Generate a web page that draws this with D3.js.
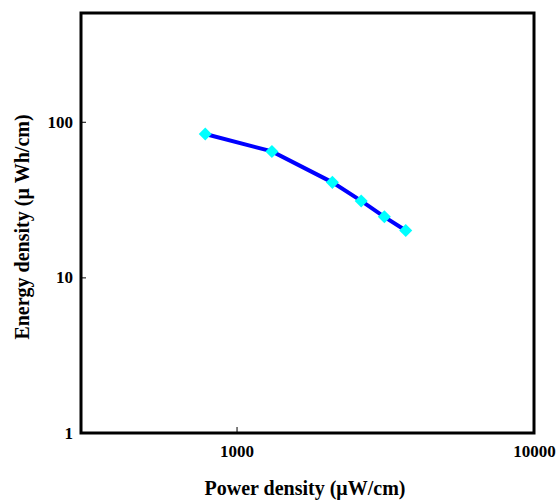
<!DOCTYPE html>
<html>
<head>
<meta charset="utf-8">
<script src="https://cdn.jsdelivr.net/npm/d3@7"></script>
<style>
  body { margin: 0; background: #fff; }
  text { font-family: "Liberation Serif", "Times New Roman", serif; font-weight: bold; }
</style>
</head>
<body>
<div id="chart"></div>
<script>
// power density (µW/cm) vs energy density (µWh/cm)
const powerDensity = [785, 1315, 2100, 2625, 3140, 3705]
const energyDensity = [83.4, 64.5, 40.8, 31.0, 24.5, 20.0]
const xTicks = [1000, 10000]
const yTicks = [1, 10, 100]

const width = 558
const height = 501
const margin = { top: 13, right: 24, bottom: 68, left: 81 }
const innerW = width - margin.left - margin.right
const innerH = height - margin.top - margin.bottom

const svg = d3
  .select('#chart')
  .append('svg')
  .attr('width', width)
  .attr('height', height)

const g = svg.append('g').attr('transform', `translate(${margin.left},${margin.top})`)

const x = d3.scaleLog().domain([300, 10000]).range([0, innerW])
const y = d3.scaleLog().domain([1, 500]).range([innerH, 0])

// inward ticks
g.append('g')
  .attr('transform', `translate(0,${innerH})`)
  .call(d3.axisBottom(x).tickValues(xTicks).tickSize(-6).tickPadding(12).tickFormat(d3.format('d')))
  .call((a) => a.select('.domain').remove())
  .call((a) => a.selectAll('text').attr('font-size', 17).attr('font-family', null))

g.append('g')
  .call(d3.axisLeft(y).tickValues(yTicks).tickSize(-5).tickPadding(8).tickFormat(d3.format('d')))
  .call((a) => a.select('.domain').remove())
  .call((a) => a.selectAll('text').attr('font-size', 17).attr('font-family', null))

// frame
g.append('rect')
  .attr('x', 0)
  .attr('y', 0)
  .attr('width', innerW)
  .attr('height', innerH)
  .attr('fill', 'none')
  .attr('stroke', '#000')
  .attr('stroke-width', 3)

const pts = powerDensity.map((p, i) => [p, energyDensity[i]])

const line = d3
  .line()
  .x(([p]) => x(p))
  .y(([, e]) => y(e))

g.append('path')
  .datum(pts)
  .attr('fill', 'none')
  .attr('stroke', '#0000ff')
  .attr('stroke-width', 4)
  .attr('d', line)

g.selectAll('.mk')
  .data(pts)
  .join('path')
  .attr('class', 'mk')
  .attr('d', d3.symbol(d3.symbolSquare, 85))
  .attr('transform', ([p, e]) => `translate(${x(p)},${y(e)}) rotate(45)`)
  .attr('fill', '#00ffff')

// axis titles
svg.append('text')
  .attr('x', 305)
  .attr('y', 495)
  .attr('text-anchor', 'middle')
  .attr('font-size', 20)
  .text('Power density (\u03bcW/cm)')

svg.append('text')
  .attr('transform', `translate(29,227) rotate(-90)`)
  .attr('text-anchor', 'middle')
  .attr('font-size', 20)
  .text('Energy density (\u03bc Wh/cm)')
</script>
</body>
</html>
